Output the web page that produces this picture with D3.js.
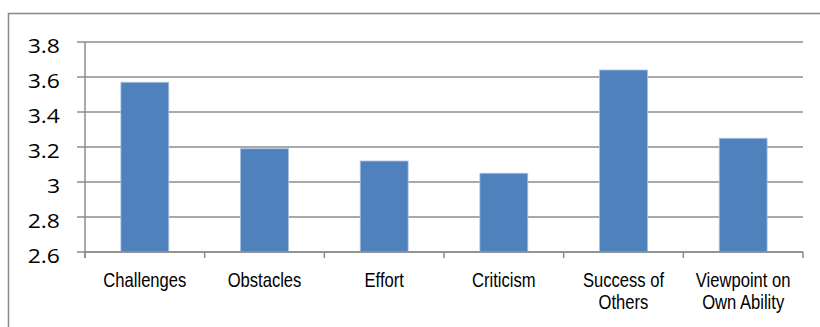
<!DOCTYPE html>
<html>
<head>
<meta charset="utf-8">
<script src="https://cdn.jsdelivr.net/npm/d3@7"></script>
<style>
  body { margin: 0; background: #fff; }
  svg { display: block; }
</style>
</head>
<body>
<div id="chart"></div>
<script>
var categories = ["Challenges", "Obstacles", "Effort", "Criticism", "Success of Others", "Viewpoint on Own Ability"];
var categoryLines = [["Challenges"], ["Obstacles"], ["Effort"], ["Criticism"], ["Success of", "Others"], ["Viewpoint on", "Own Ability"]];
var values = [3.57, 3.19, 3.12, 3.05, 3.64, 3.25];
var yTicks = [2.6, 2.8, 3, 3.2, 3.4, 3.6, 3.8];

var width = 820, height = 327;
var plot = { left: 85, right: 803, top: 42, bottom: 252 };

var svg = d3.select("#chart").append("svg")
    .attr("width", width)
    .attr("height", height);

// outer chart border, runs off the right and bottom edge like the original
svg.append("rect")
    .attr("x", 8.5).attr("y", 13.5)
    .attr("width", 840).attr("height", 340)
    .attr("fill", "none")
    .attr("stroke", "#888")
    .attr("stroke-width", 1.5);

var x = d3.scaleBand()
    .domain(categories)
    .range([plot.left, plot.right])
    .paddingInner(0.6)
    .paddingOuter(0.3);

var y = d3.scaleLinear()
    .domain([2.6, 3.8])
    .range([plot.bottom, plot.top]);

// gridlines
svg.append("g")
    .selectAll("line")
    .data(yTicks)
    .enter().append("line")
    .attr("x1", plot.left - 8).attr("x2", plot.right)
    .attr("y1", function(d) { return y(d); })
    .attr("y2", function(d) { return y(d); })
    .attr("stroke", "#8c8c8c")
    .attr("stroke-width", 1.5);

// y axis
var yAxis = svg.append("g")
    .attr("transform", "translate(" + plot.left + ",0)")
    .call(d3.axisLeft(y).tickValues(yTicks).tickSize(0).tickPadding(0).tickFormat(function(d) { return String(d); }));
yAxis.select(".domain").remove();
yAxis.append("line")
    .attr("x1", 0).attr("x2", 0)
    .attr("y1", plot.top).attr("y2", plot.bottom + 6)
    .attr("stroke", "#8c8c8c").attr("stroke-width", 1.5);
yAxis.selectAll(".tick text")
    .attr("x", null).attr("dy", null)
    .attr("text-anchor", "end")
    .attr("fill", "#000")
    .attr("font-family", "'Open Sans', 'Noto Sans', sans-serif")
    .attr("font-size", 20.5)
    .attr("transform", "translate(-25,10) scale(1.12,1)");

// bars
svg.append("g")
    .selectAll("rect")
    .data(values)
    .enter().append("rect")
    .attr("x", function(d, i) { return x(categories[i]); })
    .attr("width", x.bandwidth())
    .attr("y", function(d) { return y(d); })
    .attr("height", function(d) { return y(2.6) - y(d); })
    .attr("fill", "#4f81bd")
    .attr("stroke", "#a7c0de")
    .attr("stroke-width", 0.8);

// x axis line + ticks at category boundaries
var xAxis = svg.append("g");
xAxis.append("line")
    .attr("x1", plot.left).attr("x2", plot.right)
    .attr("y1", plot.bottom).attr("y2", plot.bottom)
    .attr("stroke", "#8c8c8c").attr("stroke-width", 1.5);
xAxis.selectAll("line.tk")
    .data(d3.range(categories.length + 1))
    .enter().append("line")
    .attr("class", "tk")
    .attr("x1", function(i) { return plot.left + i * (plot.right - plot.left) / categories.length; })
    .attr("x2", function(i) { return plot.left + i * (plot.right - plot.left) / categories.length; })
    .attr("y1", plot.bottom).attr("y2", plot.bottom + 6)
    .attr("stroke", "#8c8c8c").attr("stroke-width", 1.5);

// category labels
var labels = svg.append("g")
    .selectAll("text")
    .data(categories)
    .enter().append("text")
    .attr("transform", function(d) {
        return "translate(" + (x(d) + x.bandwidth() / 2) + ",287) scale(0.83,1)";
    })
    .attr("text-anchor", "middle")
    .attr("font-family", "'Liberation Sans', Arial, sans-serif")
    .attr("font-size", 20)
    .attr("fill", "#000");
labels.each(function(d, i) {
    var t = d3.select(this);
    categoryLines[i].forEach(function(line, j) {
        t.append("tspan").attr("x", 0).attr("y", j * 22).text(line);
    });
});
</script>
</body>
</html>
